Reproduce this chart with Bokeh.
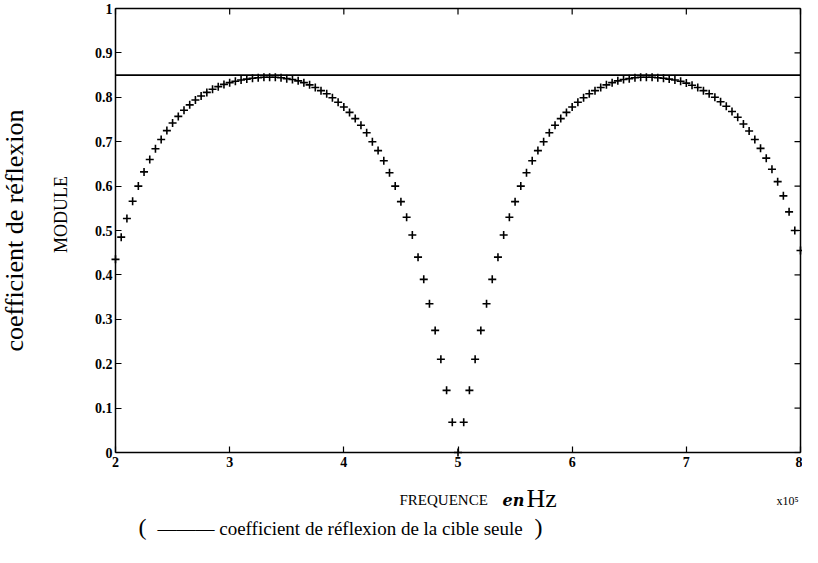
import math
from bokeh.plotting import figure
from bokeh.models import Range1d, FixedTicker, LinearAxis, Label
from bokeh.embed import file_html
from bokeh.resources import INLINE

# ---- data (frequency in units of 1e5 Hz) ----
freq = [2.00, 2.05, 2.10, 2.15, 2.20, 2.25, 2.30, 2.35, 2.40, 2.45,
        2.50, 2.55, 2.60, 2.65, 2.70, 2.75, 2.80, 2.85, 2.90, 2.95,
        3.00, 3.05, 3.10, 3.15, 3.20, 3.25, 3.30, 3.35, 3.40, 3.45,
        3.50, 3.55, 3.60, 3.65, 3.70, 3.75, 3.80, 3.85, 3.90, 3.95,
        4.00, 4.05, 4.10, 4.15, 4.20, 4.25, 4.30, 4.35, 4.40, 4.45,
        4.50, 4.55, 4.60, 4.65, 4.70, 4.75, 4.80, 4.85, 4.90, 4.95,
        5.00, 5.05, 5.10, 5.15, 5.20, 5.25, 5.30, 5.35, 5.40, 5.45,
        5.50, 5.55, 5.60, 5.65, 5.70, 5.75, 5.80, 5.85, 5.90, 5.95,
        6.00, 6.05, 6.10, 6.15, 6.20, 6.25, 6.30, 6.35, 6.40, 6.45,
        6.50, 6.55, 6.60, 6.65, 6.70, 6.75, 6.80, 6.85, 6.90, 6.95,
        7.00, 7.05, 7.10, 7.15, 7.20, 7.25, 7.30, 7.35, 7.40, 7.45,
        7.50, 7.55, 7.60, 7.65, 7.70, 7.75, 7.80, 7.85, 7.90, 7.95,
        8.00]
module = [0.435, 0.485, 0.527, 0.566, 0.600, 0.632, 0.660, 0.684, 0.705, 0.725,
          0.742, 0.757, 0.771, 0.783, 0.794, 0.803, 0.811, 0.818, 0.824, 0.829,
          0.833, 0.836, 0.839, 0.841, 0.843, 0.844, 0.845, 0.845, 0.845, 0.844,
          0.842, 0.840, 0.837, 0.833, 0.828, 0.822, 0.815, 0.808, 0.799, 0.789,
          0.778, 0.766, 0.752, 0.737, 0.720, 0.700, 0.680, 0.657, 0.630, 0.600,
          0.565, 0.530, 0.490, 0.440, 0.390, 0.335, 0.275, 0.210, 0.140, 0.068,
          0.000, 0.068, 0.140, 0.210, 0.275, 0.335, 0.390, 0.440, 0.490, 0.530,
          0.565, 0.600, 0.630, 0.657, 0.680, 0.700, 0.720, 0.737, 0.752, 0.766,
          0.778, 0.789, 0.799, 0.808, 0.815, 0.822, 0.828, 0.833, 0.837, 0.840,
          0.842, 0.844, 0.845, 0.845, 0.845, 0.844, 0.843, 0.841, 0.839, 0.836,
          0.832, 0.827, 0.822, 0.815, 0.808, 0.800, 0.790, 0.780, 0.768, 0.755,
          0.740, 0.724, 0.705, 0.685, 0.663, 0.638, 0.610, 0.578, 0.542, 0.500,
          0.455]

target_x = [2.0, 8.0]
target_y = [0.85, 0.85]

x_ticks = [2, 3, 4, 5, 6, 7, 8]
y_ticks = [0, 0.1, 0.2, 0.3, 0.4, 0.5, 0.6, 0.7, 0.8, 0.9, 1]
y_tick_labels = ["0", "0.1", "0.2", "0.3", "0.4", "0.5", "0.6", "0.7", "0.8", "0.9", "1"]

SERIF = "Liberation Serif"

# ---- page geometry (px): chart box drawn inside a full-canvas plot area ----
W, H = 802, 547
FX0, FX1 = 115, 800      # canvas x of f=2 and f=8
FY1, FY0 = 8, 452        # canvas y (from top) of module=1 and module=0
sx = (FX1 - FX0) / 6.0
sy = (FY0 - FY1) / 1.0
x_start = 2 - FX0 / sx
x_end = 8 + (W - FX1) / sx
y_end = 1 + FY1 / sy
y_start = 0 - (H - FY0) / sy

def X(px):   # page x -> data x
    return x_start + (px - 8) / sx

def Y(py):   # page y -> data y
    return y_end - (py - 8) / sy

p = figure(width=W, height=H, x_range=Range1d(x_start, x_end), y_range=Range1d(y_start, y_end),
           output_backend="svg", toolbar_location=None,
           min_border_left=0, min_border_right=0, min_border_top=0, min_border_bottom=0)
p.grid.visible = False
p.outline_line_color = None
p.background_fill_color = "white"
p.border_fill_color = "white"

for ax in (p.xaxis[0], p.yaxis[0]):
    ax.axis_line_width = 1.5
    ax.axis_line_color = "black"
    ax.major_tick_in = 6
    ax.major_tick_out = 0
    ax.major_tick_line_width = 1.2
    ax.major_tick_line_color = "black"
    ax.minor_tick_line_color = None
    ax.major_label_text_font = SERIF
    ax.major_label_text_font_style = "bold"
    ax.major_label_text_font_size = "14px"
    ax.major_label_text_color = "black"

p.xaxis.fixed_location = 0
p.xaxis.bounds = (2, 8)
p.xaxis.ticker = FixedTicker(ticks=x_ticks)
p.xaxis.major_label_standoff = 4
p.yaxis.fixed_location = 2
p.yaxis.bounds = (0, 1)
p.yaxis.ticker = FixedTicker(ticks=y_ticks)
p.yaxis.major_label_overrides = {t: s for t, s in zip(y_ticks, y_tick_labels)}
p.yaxis.major_label_standoff = 3

right = LinearAxis(fixed_location=8, bounds=(0, 1), ticker=FixedTicker(ticks=[]),
                   axis_line_width=1.5, axis_line_color="black", minor_tick_line_color=None)
top = LinearAxis(fixed_location=1, bounds=(2, 8), ticker=FixedTicker(ticks=[]),
                 axis_line_width=1.5, axis_line_color="black", minor_tick_line_color=None)
p.add_layout(right, "right")
p.add_layout(top, "above")

# inward tick marks on the top and right sides of the box
tlen_y = 6 / sy
tlen_x = 6 / sx
p.segment(x0=x_ticks, y0=[1] * len(x_ticks), x1=x_ticks, y1=[1 - tlen_y] * len(x_ticks),
          line_color="black", line_width=1.2)
p.segment(x0=[8] * len(y_ticks), y0=y_ticks, x1=[8 - tlen_x] * len(y_ticks), y1=y_ticks,
          line_color="black", line_width=1.2)

p.line(target_x, target_y, line_color="black", line_width=1.6)
p.scatter(freq, module, marker="cross", size=8, line_color="black", line_width=1.6)

def lab(px, py, text, size, style="normal", align="left", angle=0.0, font=SERIF):
    p.add_layout(Label(x=X(px), y=Y(py), text=text, text_font=font, text_font_size=size,
                       text_font_style=style, text_align=align, text_baseline="middle",
                       angle=angle, text_color="black"))

lab(22, 238, "coefficient de réflexion", "26px", align="center", angle=math.pi / 2)
lab(68, 222, "MODULE", "18px", align="center", angle=math.pi / 2)
lab(407, 507, "FREQUENCE", "15px")
lab(510, 508, "en", "16px", style="bold italic", font="DejaVu Serif")
lab(534, 506, "Hz", "26px")
lab(795, 508, "x10⁵", "12px", align="center")
lab(150, 534, "(", "24px", align="center")
lab(165, 536, "——— coefficient de réflexion de la cible seule", "19px")
lab(546, 534, ")", "24px", align="center")

open("out.html", "w").write(file_html(p, INLINE))
